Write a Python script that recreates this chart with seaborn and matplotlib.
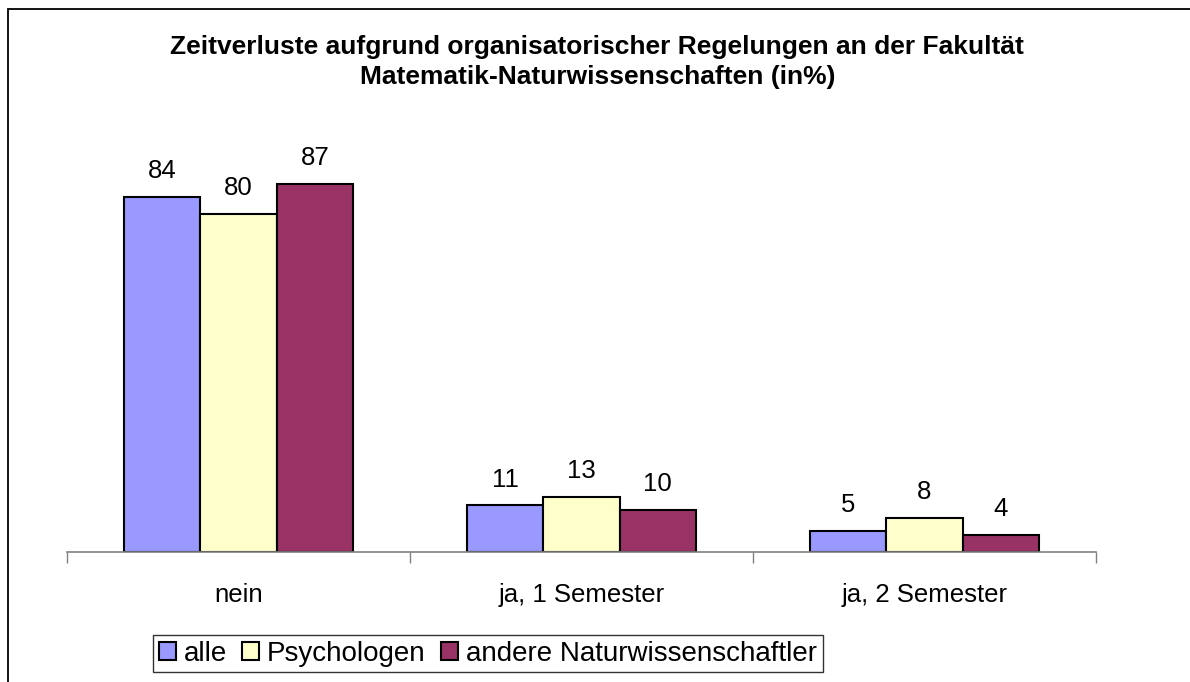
import pandas as pd
import matplotlib.pyplot as plt
import seaborn as sns
from matplotlib.patches import Rectangle

# Daten
kategorien = ['nein', 'ja, 1 Semester', 'ja, 2 Semester']
gruppen = ['alle', 'Psychologen', 'andere Naturwissenschaftler']
alle = [84, 11, 5]
psychologen = [80, 13, 8]
andere = [87, 10, 4]
farben = ['#9999FF', '#FFFFCC', '#993366']

df = pd.DataFrame({
    'kategorie': kategorien * 3,
    'gruppe': [gruppen[0]] * 3 + [gruppen[1]] * 3 + [gruppen[2]] * 3,
    'wert': alle + psychologen + andere,
})

sns.set_style('white')
plt.rcParams['font.family'] = ['Liberation Sans', 'DejaVu Sans']
plt.rcParams['text.color'] = 'black'
plt.rcParams['xtick.color'] = 'black'

fig = plt.figure(figsize=(11.9, 6.82), dpi=100)
ax = fig.add_axes([67 / 1190, 1 - 552 / 682, (1096 - 67) / 1190, (552 - 129) / 682])

sns.barplot(data=df, x='kategorie', y='wert', hue='gruppe', order=kategorien,
            hue_order=gruppen, palette=farben, width=0.667, saturation=1,
            edgecolor='black', linewidth=1.5, ax=ax, legend=True)

for c in ax.containers:
    ax.bar_label(c, fmt='%d', padding=10, fontsize=18.5, color='black')

ax.set_ylim(0, 100)
ax.set_xlim(-0.5, 2.5)
ax.set_xlabel('')
ax.set_ylabel('')
ax.set_yticks([])
for s in ['top', 'right', 'left']:
    ax.spines[s].set_visible(False)
ax.spines['bottom'].set_color('#808080')
ax.spines['bottom'].set_linewidth(1.2)

ax.set_xticks(range(3))
ax.set_xticklabels(kategorien, fontsize=18.5)
ax.tick_params(axis='x', which='major', length=0, pad=22, labelcolor='black')
ax.set_xticks([-0.5, 0.5, 1.5, 2.5], minor=True)
ax.tick_params(axis='x', which='minor', length=8, width=1, color='#808080',
               direction='out', bottom=True)

# Legende
handles, labels = ax.get_legend_handles_labels()
ax.legend_.remove()
leg = fig.legend(handles, labels, loc='upper left',
                 bbox_to_anchor=(153 / 1190, 1 - 635 / 682), ncol=3,
                 fontsize=20, frameon=True, fancybox=False, edgecolor='black',
                 handlelength=0.62, handleheight=0.62, handletextpad=0.28,
                 columnspacing=0.55, borderpad=0.2, borderaxespad=0)
leg.get_frame().set_linewidth(1)
for t in leg.get_texts():
    t.set_color('black')

# Titel
fig.text(0.502, 1 - 62 / 682,
         'Zeitverluste aufgrund organisatorischer Regelungen an der Fakultät\n'
         'Matematik-Naturwissenschaften (in%)',
         ha='center', va='center', fontsize=19, fontweight='bold',
         linespacing=1.35, color='black')

# Rahmen
fig.patches.append(Rectangle((8 / 1190, -0.1), 1.2, 1 - 9 / 682 + 0.1,
                             transform=fig.transFigure, fill=False,
                             edgecolor='black', linewidth=1.3))

plt.savefig('out.png', dpi=100)
